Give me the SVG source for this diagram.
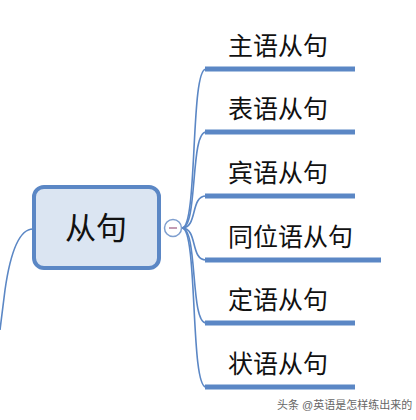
<svg xmlns="http://www.w3.org/2000/svg" width="416" height="420" viewBox="0 0 416 420">
<style>
.c{fill:none;stroke:#5b87c5;stroke-width:1.6}
.u{stroke:#5b87c5;stroke-width:5}
.t{font-family:"Liberation Sans","Noto Sans CJK SC",sans-serif;font-size:25px;fill:#111}
</style>
<rect width="416" height="420" fill="#fff"/>
<g id="connectors">
<path class="c" d="M33,229 C18,229 10,255 5,290 L0,330"/>
<path class="c" d="M182,228 C198,228 190,69 206,69"/>
<path class="c" d="M182,228 C198,228 190,132 206,132"/>
<path class="c" d="M182,228 C198,228 190,196 206,196"/>
<path class="c" d="M182,228 C198,228 190,260 206,260"/>
<path class="c" d="M182,228 C198,228 190,323 206,323"/>
<path class="c" d="M182,228 C198,228 190,387 206,387"/>
</g>
<g id="root">
<rect x="34" y="187" width="125" height="81" rx="10" fill="#dbe5f2" stroke="#5b87c5" stroke-width="4"/>
<text x="96" y="239" text-anchor="middle" class="t" style="font-size:31px">从句</text>
</g>
<g id="collapse">
<circle cx="173" cy="228" r="8.5" fill="#fff" stroke="#7f9fcf" stroke-width="1.5"/>
<line x1="169" y1="228" x2="177" y2="228" stroke="#b07a9a" stroke-width="1.5"/>
</g>
<g id="n1"><text x="228" y="55" class="t">主语从句</text><line class="u" x1="205" y1="69" x2="355" y2="69"/></g>
<g id="n2"><text x="228" y="118" class="t">表语从句</text><line class="u" x1="205" y1="132" x2="355" y2="132"/></g>
<g id="n3"><text x="228" y="182" class="t">宾语从句</text><line class="u" x1="205" y1="196" x2="355" y2="196"/></g>
<g id="n4"><text x="228" y="246" class="t">同位语从句</text><line class="u" x1="205" y1="260" x2="381" y2="260"/></g>
<g id="n5"><text x="228" y="309" class="t">定语从句</text><line class="u" x1="205" y1="323" x2="355" y2="323"/></g>
<g id="n6"><text x="228" y="373" class="t">状语从句</text><line class="u" x1="205" y1="387" x2="355" y2="387"/></g>
<text x="277" y="409" font-family="Liberation Sans,'Noto Sans CJK SC',sans-serif" font-size="11" fill="#666">头条 @英语是怎样练出来的</text>
</svg>
